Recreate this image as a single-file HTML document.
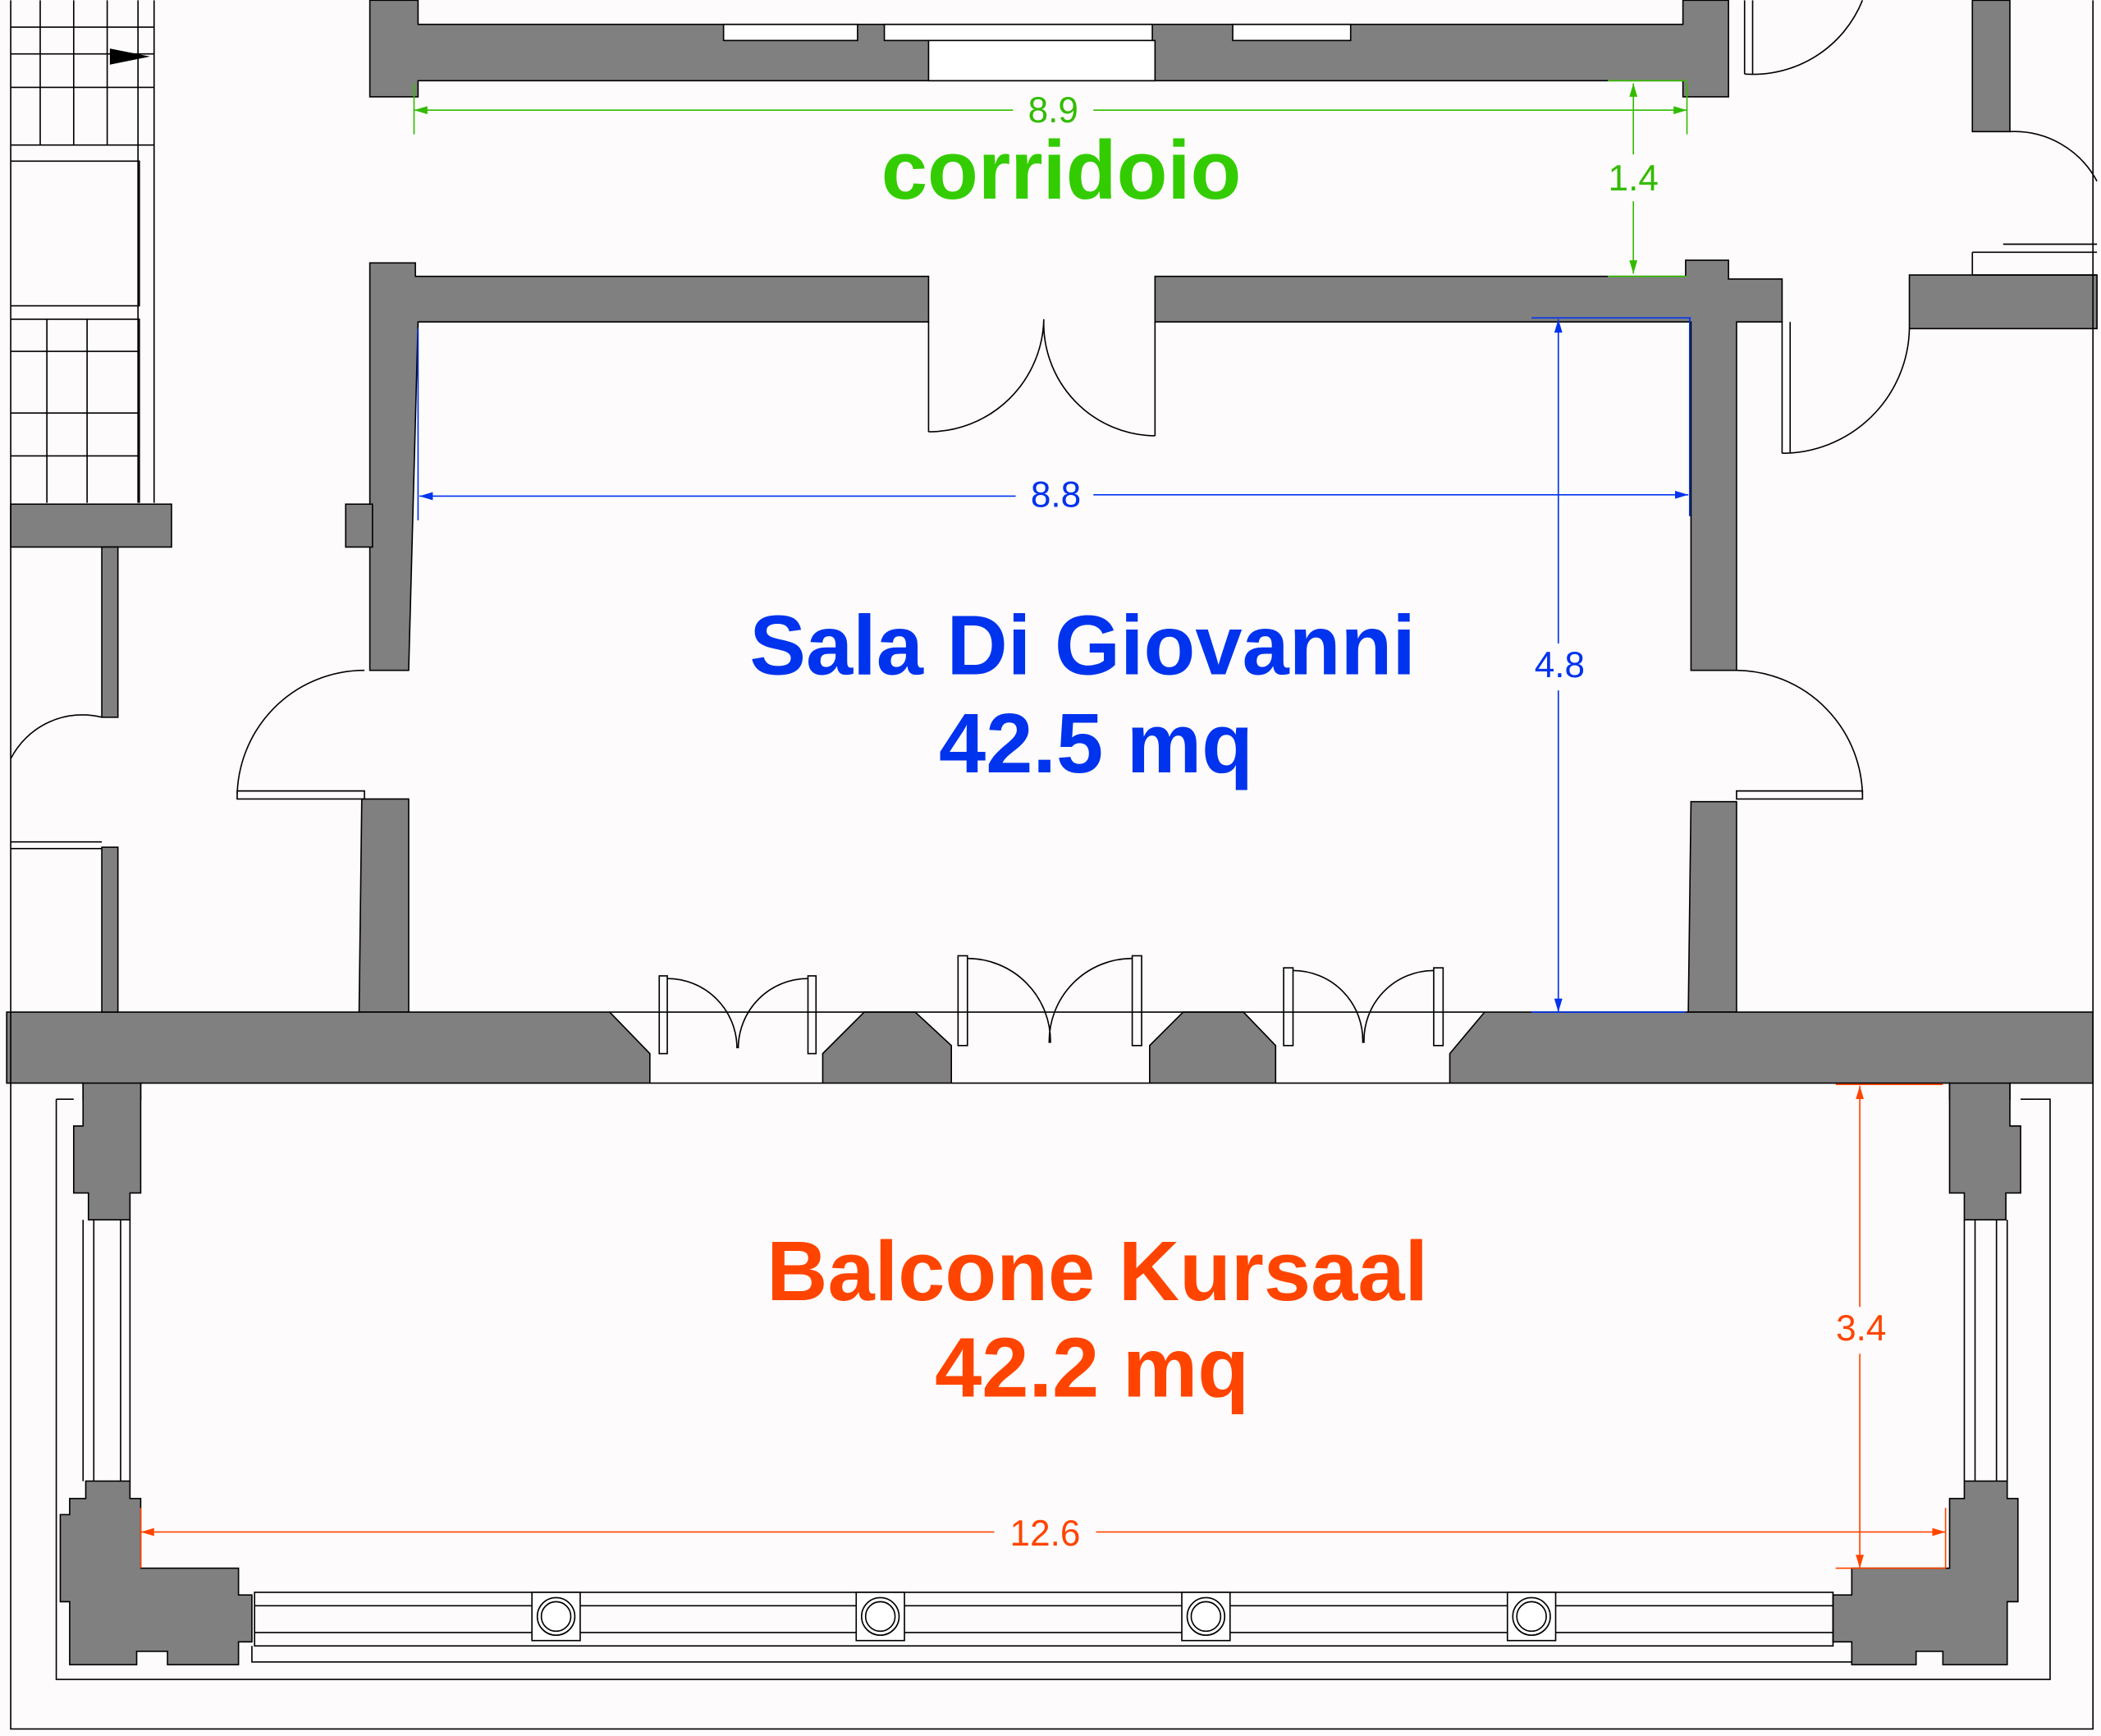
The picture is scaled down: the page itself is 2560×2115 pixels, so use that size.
<!DOCTYPE html>
<html><head><meta charset="utf-8"><style>
html,body{margin:0;padding:0;background:#fff;}
svg{display:block;}
text{font-family:"Liberation Sans",Arial,sans-serif;}
</style></head><body>
<svg width="2560" height="2115" viewBox="0 0 1568 1295" xmlns="http://www.w3.org/2000/svg">
<defs>
<marker id="ag" viewBox="0 0 10 6" refX="10" refY="3" markerWidth="10" markerHeight="6" orient="auto-start-reverse" markerUnits="userSpaceOnUse"><path d="M0,0L10,3L0,6z" fill="#33bb00"/></marker>
<marker id="ab" viewBox="0 0 10 6" refX="10" refY="3" markerWidth="10" markerHeight="6" orient="auto-start-reverse" markerUnits="userSpaceOnUse"><path d="M0,0L10,3L0,6z" fill="#0033ee"/></marker>
<marker id="ao" viewBox="0 0 10 6" refX="10" refY="3" markerWidth="10" markerHeight="6" orient="auto-start-reverse" markerUnits="userSpaceOnUse"><path d="M0,0L10,3L0,6z" fill="#ff4400"/></marker>
</defs>
<rect width="1568" height="1295" fill="#fdfbfb"/>
<g fill="#808080" stroke="#000" stroke-width="1">
<path d="M276,0H312V18H1256V0H1290V72H1256V60H312V72H276Z"/>
<path d="M276,196H310V206H693V240H312L305,500H276Z"/>
<rect x="258" y="376" width="20" height="32"/>
<path d="M862,206H1258V194H1290V208H1330V240H1296V500H1262V240H862Z"/>
<path d="M270,596H305V755H268Z"/>
<path d="M1262,598H1296V755H1260Z"/>
<rect x="1425" y="205" width="140" height="40"/>
<rect x="1472" y="0" width="28" height="98"/>
<path d="M5,755H455L485,786V808H614V786L645,755H683L710,780V808H858V780L883,755H928L952,780V808H1082V786L1108,755H1562V808H1500V820H1455V808H105V820H62V808H5Z"/>
<rect x="8" y="376" width="120" height="32"/>
<rect x="76" y="408" width="12" height="127"/>
<rect x="76" y="632" width="12" height="123"/>
<path d="M62,808H105V890H97V910H66V890H55V840H62Z"/>
<path d="M64,1105H97V1118H105V1170H178V1190H188V1225H178V1242H125V1232H102V1242H52V1195H45V1130H52V1118H64Z"/>
<path d="M1455,808H1500V840H1508V890H1497V910H1466V890H1455Z"/>
<path d="M1466,1105H1498V1118H1506V1195H1498V1242H1450V1232H1430V1242H1382V1225H1368V1190H1382V1170H1455V1118H1466Z"/>
</g>
<g fill="#fff" stroke="#000" stroke-width="1">
<rect x="540" y="18" width="100" height="12"/><rect x="660" y="18" width="200" height="12"/><rect x="920" y="18" width="88" height="12"/>
<rect x="693" y="30" width="169" height="30"/>
</g>
<g fill="none" stroke="#000" stroke-width="1">
<path d="M8,0V1290H1562V0"/>
<path d="M42,820V1253H1530V820H1520"/>
<path d="M42,820H55M1508,820H1520"/>
<path d="M188,1228V1240H1382"/>
<rect x="190" y="1188" width="1178" height="40"/>
<path d="M190,1198H1368M190,1218H1368"/>
<path d="M62,910V1105M97,910V1105M70,910V1105M90,910V1105"/>
<path d="M1466,910V1105M1498,910V1105M1474,910V1105M1490,910V1105"/>
<path d="M8,20H115M8,40H115M8,65H115M8,108H115M8,120H104V228H8M8,238H104V375M8,262H104M8,308H104M8,340H104M30,0V108M55,0V108M80,0V108M35,238V375M65,238V375M103,0V375M115,0V375"/>
<path d="M8,628H76M8,633H76"/>
<path d="M693,240V322M862,240V325"/>
<path d="M693,322A86,86 0 0 0 779,238M862,325A84,84 0 0 1 779,238"/>
<path d="M177,596A95,95 0 0 1 272,500M177,590H272V596H177Z"/>
<path d="M1296,500A95,95 0 0 1 1390,596M1296,590H1390V596H1296Z"/>
<path d="M1330,338A95,95 0 0 0 1425,245M1330,240V338M1336,240V338"/>
<path d="M1302,55A88,88 0 0 0 1390,0M1302,0V55M1308,0V55"/>
<path d="M1500,98A70,70 0 0 1 1565,135"/>
<path d="M1472,188H1565M1472,205H1565M1495,182H1565M1472,188V205"/>
<path d="M8,566A60,60 0 0 1 76,535"/>
<path d="M455,755H1108"/>
<rect x="492" y="728" width="6" height="58"/><rect x="603" y="728" width="6" height="58"/>
<path d="M498,730A52,52 0 0 1 550,782M603,730A52,52 0 0 0 551,782"/>
<rect x="715" y="713" width="7" height="67"/><rect x="845" y="713" width="7" height="67"/>
<path d="M722,715A62,62 0 0 1 784,778M845,715A62,62 0 0 0 783,778"/>
<rect x="958" y="722" width="7" height="58"/><rect x="1070" y="722" width="7" height="58"/>
<path d="M965,724A52,52 0 0 1 1017,778M1070,724A52,52 0 0 0 1018,778"/>
</g>
<g fill="#fff" stroke="#000">
<rect x="397" y="1188" width="36" height="36"/><circle cx="415" cy="1206" r="14"/><circle cx="415" cy="1206" r="11"/>
<rect x="639" y="1188" width="36" height="36"/><circle cx="657" cy="1206" r="14"/><circle cx="657" cy="1206" r="11"/>
<rect x="882" y="1188" width="36" height="36"/><circle cx="900" cy="1206" r="14"/><circle cx="900" cy="1206" r="11"/>
<rect x="1125" y="1188" width="36" height="36"/><circle cx="1143" cy="1206" r="14"/><circle cx="1143" cy="1206" r="11"/>
</g>
<path d="M82,36L112,42L82,48Z" fill="#000"/>
<g stroke="#33bb00" stroke-width="1" fill="none">
<path d="M309,82H756" marker-start="url(#ag)"/>
<path d="M816,82H1259" marker-end="url(#ag)"/>
<path d="M309,62V100M1259,62V100M1200,60H1259M1200,206H1259"/>
<path d="M1219,115V62" marker-end="url(#ag)"/>
<path d="M1219,150V204" marker-end="url(#ag)"/>
</g>
<g stroke="#0033ee" stroke-width="1" fill="none">
<path d="M313,370H758" marker-start="url(#ab)"/>
<path d="M816,369H1260" marker-end="url(#ab)"/>
<path d="M312,245V388M1261,237V385M1143,237H1262M1143,755H1258"/>
<path d="M1163,238V480" marker-start="url(#ab)"/>
<path d="M1163,515V755" marker-end="url(#ab)"/>
</g>
<g stroke="#ff4400" stroke-width="1" fill="none">
<path d="M105,1143H742" marker-start="url(#ao)"/>
<path d="M818,1143H1452" marker-end="url(#ao)"/>
<path d="M105,1125V1170M1452,1125V1170M1370,809H1450M1370,1170H1452"/>
<path d="M1388,810V975" marker-start="url(#ao)"/>
<path d="M1388,1010V1170" marker-end="url(#ao)"/>
</g>
<g text-anchor="middle">
<text x="786" y="91" font-size="27" fill="#33bb00">8.9</text>
<text x="1219" y="142" font-size="27" fill="#33bb00">1.4</text>
<text x="792" y="148" font-size="62" font-weight="bold" fill="#33cc00">corridoio</text>
<text x="788" y="378" font-size="27" fill="#0033ee">8.8</text>
<text x="1164" y="505" font-size="27" fill="#0033ee">4.8</text>
<text x="808" y="503" font-size="63" font-weight="bold" fill="#0033ee">Sala Di Giovanni</text>
<text x="818" y="576" font-size="63" font-weight="bold" fill="#0033ee">42.5 mq</text>
<text x="819" y="970" font-size="63" font-weight="bold" fill="#ff4400">Balcone Kursaal</text>
<text x="815" y="1042" font-size="63" font-weight="bold" fill="#ff4400">42.2 mq</text>
<text x="1389" y="1000" font-size="27" fill="#ff4400">3.4</text>
<text x="780" y="1153" font-size="27" fill="#ff4400">12.6</text>
</g>
</svg>
</body></html>
